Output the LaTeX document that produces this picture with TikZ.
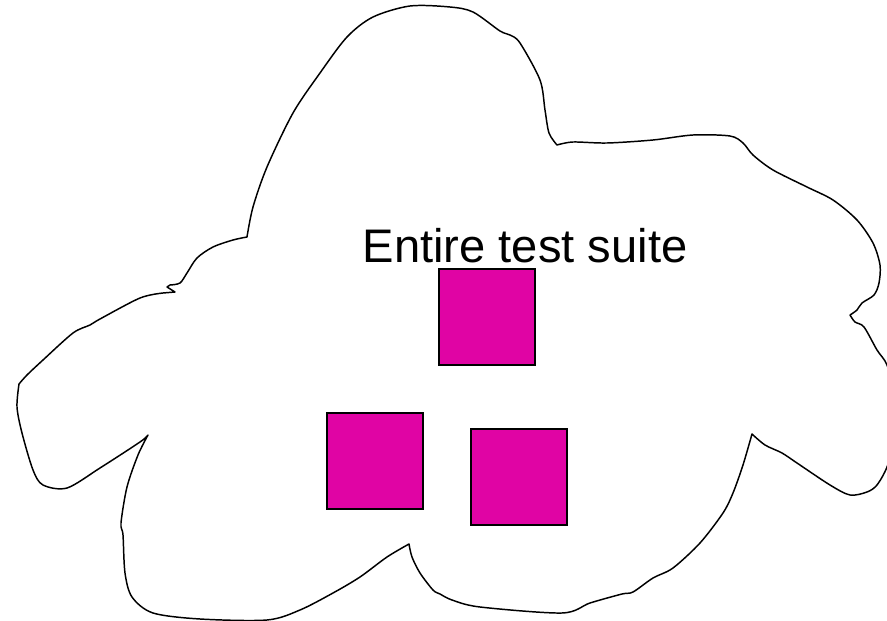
\documentclass[tikz,border=0pt]{standalone}
\usepackage{fontspec}
\setmainfont{Liberation Sans}
\definecolor{magfill}{RGB}{224,4,164}
\tikzset{
  cloudline/.style={draw=black, line width=0.42pt, line join=round},
  sqbox/.style={draw=black, fill=magfill, line width=0.45pt, minimum width=0.96cm, minimum height=0.96cm, inner sep=0pt},
  label/.style={font=\fontsize{13.4pt}{16pt}\selectfont, anchor=base, inner sep=0pt}
}
\begin{document}
\begin{tikzpicture}[x=0.01cm, y=-0.01cm]
\useasboundingbox (0,0) rectangle (887,621);
\begin{scope}
\clip (0,0) rectangle (887,621);
\path[cloudline]
  plot[smooth, tension=0.5] coordinates {(247,237) (253,207) (267,167) (293,113) (320,73) (347,37) (373,17) (410,6) (450,7) (473,12) (500,31) (510,35) (520,43) (540,80) (545,110) (549,133) (557,145)}
  -- plot[smooth, tension=0.5] coordinates {(557,145) (573,142) (607,143) (653,140) (693,135) (730,136) (743,143) (753,155) (773,170) (807,187) (833,200) (857,220) (873,243) (880,265) (879,283) (874,295) (862,303) (857,310) (850,315)}
  -- plot[smooth, tension=0.5] coordinates {(850,315) (855,322) (864,327) (877,350) (887,365) (894,395) (894,440) (887,467) (877,485) (867,492) (850,495) (830,485) (797,463) (782,453) (765,445) (752,434)}
  -- plot[smooth, tension=0.5] coordinates {(752,434) (743,465) (733,493) (723,513) (700,543) (673,568) (653,578) (633,592) (622,594) (590,603) (562,613) (480,607) (452,600) (440,594) (433,590) (420,573) (412,557) (409,544)}
  -- plot[smooth, tension=0.5] coordinates {(409,544) (387,557) (360,577) (333,593) (300,610) (267,620) (200,619) (153,613) (132,597) (125,573) (123,535) (121,523) (127,487) (138,455) (148,435)}
  -- plot[smooth, tension=0.5] coordinates {(148,435) (140,442) (100,468) (67,488) (43,485) (33,470) (22,433) (17,407) (19,384)}
  -- plot[smooth, tension=0.5] coordinates {(19,384) (27,375) (43,360) (73,333) (90,325) (100,319) (140,298) (163,293)}
  -- (175,292) -- (167,287) -- (170,285)
  -- plot[smooth, tension=0.5] coordinates {(170,285) (180,283) (187,273) (197,258) (213,247) (233,240) (247,237)}
  -- cycle;
\end{scope}
\node[label] (title) at (525,262) {Entire test suite};
\node[sqbox] (top) at (487,317) {};
\node[sqbox] (left) at (375,461) {};
\node[sqbox] (right) at (519,477) {};
\end{tikzpicture}
\end{document}
